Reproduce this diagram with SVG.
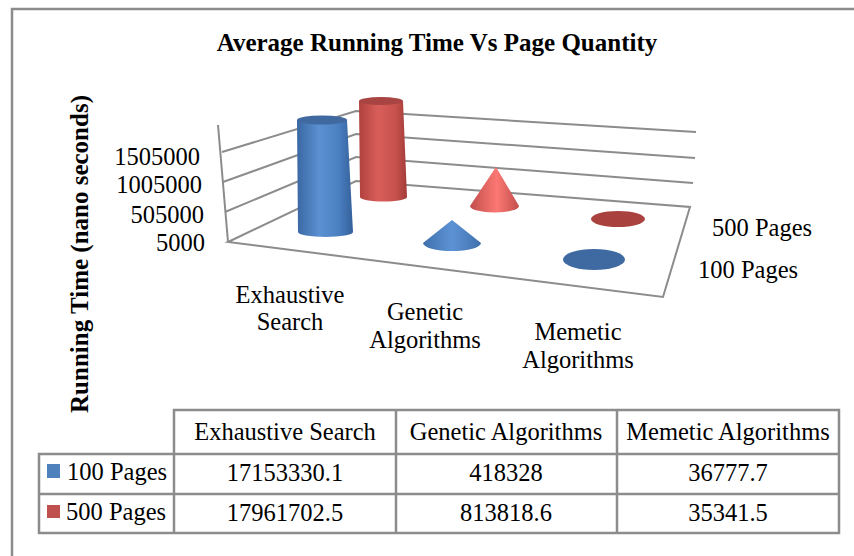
<svg xmlns="http://www.w3.org/2000/svg" width="854" height="556" viewBox="0 0 854 556">
<defs>
<style>
text{font-family:"Liberation Serif","Times New Roman",serif;font-size:24.5px;fill:#000}
.b{font-weight:bold;font-size:25px}
.m{text-anchor:middle}
.e{text-anchor:end}
.grid{stroke:#8c8c8c;stroke-width:2;fill:none}
.tb{stroke:#8c8c8c;stroke-width:2.5;fill:none}
</style>
<linearGradient id="gBlue" x1="0" y1="0" x2="1" y2="0">
<stop offset="0" stop-color="#3a68a3"/>
<stop offset="0.4" stop-color="#5b90d2"/>
<stop offset="0.75" stop-color="#4a7fc0"/>
<stop offset="1" stop-color="#34609a"/>
</linearGradient>
<linearGradient id="gRed" x1="0" y1="0" x2="1" y2="0">
<stop offset="0" stop-color="#b0413e"/>
<stop offset="0.4" stop-color="#d85e5a"/>
<stop offset="0.75" stop-color="#c9524e"/>
<stop offset="1" stop-color="#a23c39"/>
</linearGradient>
<linearGradient id="gRedCone" x1="0" y1="0" x2="1" y2="0">
<stop offset="0" stop-color="#c24e4b"/>
<stop offset="0.55" stop-color="#fb7874"/>
<stop offset="1" stop-color="#c24e4b"/>
</linearGradient>
<linearGradient id="gBlueCone" x1="0" y1="0" x2="1" y2="0">
<stop offset="0" stop-color="#3f70ad"/>
<stop offset="0.5" stop-color="#5d93d5"/>
<stop offset="1" stop-color="#3f70ad"/>
</linearGradient>
</defs>
<rect x="0" y="0" width="854" height="556" fill="#fff"/>
<rect x="12" y="9" width="900" height="600" fill="none" stroke="#8c8c8c" stroke-width="2.5"/>

<text id="title" class="b m" x="437" y="51">Average Running Time Vs Page Quantity</text>
<text id="yTitle" class="b m" transform="translate(88,254) rotate(-90)">Running Time (nano seconds)</text>

<g id="yLabels">
<text class="e" x="200" y="165">1505000</text>
<text class="e" x="202" y="193">1005000</text>
<text class="e" x="204" y="223">505000</text>
<text class="e" x="205" y="251">5000</text>
</g>

<g id="connectors">
<line class="grid" x1="218" y1="125" x2="228" y2="242"/>
<polyline class="grid" points="222,152 356,111 696,132"/>
<polyline class="grid" points="223,182 356,134 695,158"/>
<polyline class="grid" points="225,212 356,157 693,183"/>
<polygon class="grid" points="228,242 356,181 690,207 663,297"/>
</g>

<g id="redCylinder">
<path d="M359,101 L360,197 A23.5,4.5 0 0 0 407,197 L403,101 Z" fill="url(#gRed)"/>
<ellipse cx="381" cy="101" rx="22" ry="4" fill="#a84542"/>
</g>
<g id="blueCylinder">
<path d="M297,120 L298,232 A27.5,5 0 0 0 353,232 L347,120 Z" fill="url(#gBlue)"/>
<ellipse cx="322" cy="120" rx="25" ry="4.5" fill="#40699f"/>
</g>
<g id="redCone">
<path d="M470,206 L496,167 L519,206 A24.5,6.5 0 0 1 470,206 Z" fill="url(#gRedCone)"/>
</g>
<g id="blueCone">
<path d="M423,243 L452,220 L481,243 A29,8 0 0 1 423,243 Z" fill="url(#gBlueCone)"/>
</g>
<g id="redDisk">
<ellipse cx="618" cy="219" rx="27" ry="8" fill="#a9413e"/>
</g>
<g id="blueDisk">
<ellipse cx="594" cy="259.5" rx="31" ry="10.5" fill="#3f6aa1"/>
</g>

<g id="seriesLabels">
<text x="712" y="236">500 Pages</text>
<text x="698" y="278">100 Pages</text>
</g>

<g id="catLabels">
<text class="m" x="290" y="303">Exhaustive</text>
<text class="m" x="290" y="330">Search</text>
<text class="m" x="425" y="320">Genetic</text>
<text class="m" x="425" y="348">Algorithms</text>
<text class="m" x="578" y="340">Memetic</text>
<text class="m" x="578" y="368">Algorithms</text>
</g>

<g id="dataTable">
<polyline class="tb" points="174,454 174,410 839,410 839,533 39,533 39,454 839,454"/>
<line class="tb" x1="39" y1="494" x2="839" y2="494"/>
<line class="tb" x1="174" y1="454" x2="174" y2="533"/>
<line class="tb" x1="396" y1="410" x2="396" y2="533"/>
<line class="tb" x1="617" y1="410" x2="617" y2="533"/>
<text class="m" x="285" y="440">Exhaustive Search</text>
<text class="m" x="506" y="440">Genetic Algorithms</text>
<text class="m" x="728" y="440">Memetic Algorithms</text>
<rect x="47" y="464" width="13" height="14" fill="#4f81bd"/>
<text x="67" y="480">100 Pages</text>
<rect x="47" y="505" width="13" height="13" fill="#c0504d"/>
<text x="66" y="520">500 Pages</text>
<text class="m" x="285" y="481">17153330.1</text>
<text class="m" x="506" y="481">418328</text>
<text class="m" x="728" y="481">36777.7</text>
<text class="m" x="285" y="521">17961702.5</text>
<text class="m" x="506" y="521">813818.6</text>
<text class="m" x="728" y="521">35341.5</text>
</g>
</svg>
